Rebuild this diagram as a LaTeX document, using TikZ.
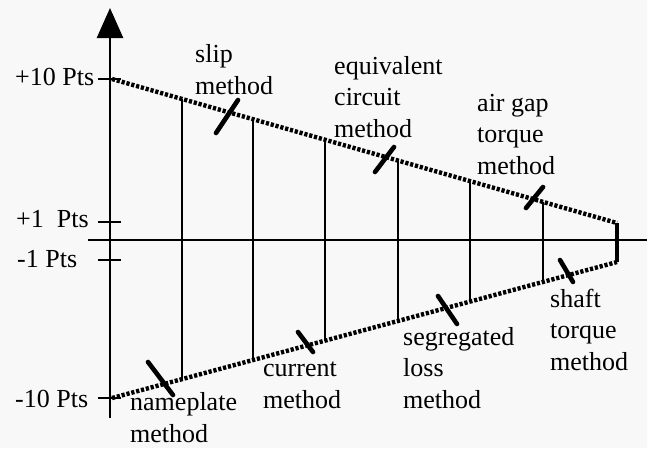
\documentclass[tikz,border=0pt]{standalone}
\usepackage{fontspec}
\setmainfont{Liberation Serif}
\usetikzlibrary{arrows.meta}
\usetikzlibrary{calc}

\definecolor{paper}{RGB}{248,248,248}
\tikzset{
  bound/.style={line width=4.4pt, dash pattern=on 3.2pt off 1.8pt},
  riser/.style={line width=2.3pt},
  hatch/.style={line width=4.6pt, line cap=round},
  tickmark/.style={line width=2.6pt},
  lbl/.style={anchor=base west, align=left, inner sep=0pt,
    font=\fontsize{26}{31.5}\selectfont}
}

\begin{document}
\begin{tikzpicture}[x=1pt,y=-1pt]
\fill[paper] (0,0) rectangle (647,448);
\useasboundingbox (0,0) rectangle (647,448);
% axes
\draw[line width=2.6pt,-{Triangle[width=26pt,length=30pt]}] (110,418) -- (110,8);
\draw[line width=2.6pt] (88,240) -- (647,240);
% tick marks
\foreach \y in {79,222,260,398}
  \draw[tickmark] (98,\y) -- (121,\y);
\node[lbl] (p10) at (15,85) {+10 Pts};
\node[lbl] (p1) at (16,227) {+1\ \ Pts};
\node[lbl] (m1) at (17,267) {-1 Pts};
\node[lbl] (m10) at (15,407) {-10 Pts};
% upper and lower bounds
\coordinate (t0) at (112,79);
\coordinate (t1) at (617,223);
\coordinate (b0) at (112,398);
\coordinate (b1) at (617,262);
\draw[bound] (t0) -- (t1);
\draw[bound] (b0) -- (b1);
\draw[line width=3.2pt] (t1) -- (b1);
\foreach \x in {182,253,325,398,470,543}
  \draw[riser] ($(t0)!{(\x-112)/505}!(t1)$) -- ($(b0)!{(\x-112)/505}!(b1)$);
% method marks
\draw[hatch] (216,133) -- (238,100);
\draw[hatch] (375,172) -- (394,147);
\draw[hatch] (526,208) -- (543,187);
\draw[hatch] (148,362) -- (173,395);
\draw[hatch] (298,332) -- (313,352);
\draw[hatch] (438,296) -- (457,324);
\draw[hatch] (560,260) -- (573,282);
% labels (anchored at the last line)
\node[lbl] (slip) at (195,94) {slip\\method};
\node[lbl] (equiv) at (334,137) {equivalent\\circuit\\method};
\node[lbl] (airgap) at (477,174) {air gap\\torque\\method};
\node[lbl] (plate) at (130,442) {nameplate\\method};
\node[lbl] (curr) at (263,408) {current\\method};
\node[lbl] (segr) at (403,408) {segregated\\loss\\method};
\node[lbl] (shaft) at (550,370) {shaft\\torque\\method};
\end{tikzpicture}
\end{document}
